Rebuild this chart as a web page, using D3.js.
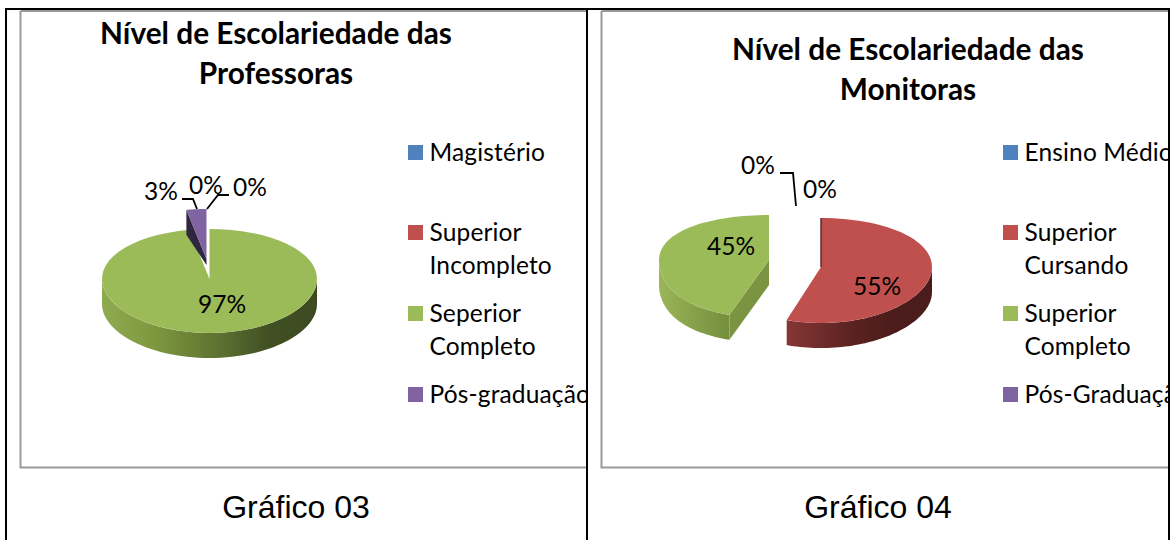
<!DOCTYPE html>
<html><head><meta charset="utf-8">
<script src="https://cdn.jsdelivr.net/npm/d3@7"></script>
<style>html,body{margin:0;padding:0;background:#fff}svg{display:block}</style>
</head><body><svg id="c" width="1172" height="540"></svg>
<script>
const titleA = ["Nível de Escolariedade das","Professoras"];
const titleB = ["Nível de Escolariedade das","Monitoras"];
const categoriesA = ["Magistério","Superior Incompleto","Seperior Completo","Pós-graduação"];
const categoriesB = ["Ensino Médio","Superior Cursando","Superior Completo","Pós-Graduação"];
const valuesA = [0,0,97,3];
const valuesB = [0,55,45,0];
const captions = ["Gráfico 03","Gráfico 04"];
const colors = ["#4F81BD","#C0504D","#9BBB59","#8064A2"];

const svg = d3.select("#c");
const defs = svg.append("defs");
const FONT = "Lato, 'Open Sans', sans-serif";

function grad(id,x1,x2,stops){
  const g = defs.append("linearGradient").attr("id",id).attr("gradientUnits","userSpaceOnUse")
    .attr("x1",x1).attr("x2",x2).attr("y1",0).attr("y2",0);
  stops.forEach(s=>g.append("stop").attr("offset",s[0]).attr("stop-color",s[1]));
  return `url(#${id})`;
}
defs.append("clipPath").attr("id","clipA").append("rect").attr("x",0).attr("y",0).attr("width",586).attr("height",540);
defs.append("clipPath").attr("id","clipB").append("rect").attr("x",590).attr("y",0).attr("width",578).attr("height",540);

// frames
const gray="#9a9a9a";
[[20.5,11,586,467.5],[601.5,11,1168,467.5]].forEach(f=>{
  svg.append("path").attr("d",`M${f[0]},${f[1]}H${f[2]}M${f[0]},${f[1]}V${f[3]}H${f[2]}`)
    .attr("fill","none").attr("stroke",gray).attr("stroke-width",2);
});
svg.append("path").attr("d","M6,540V9H1169V540M587,9V540").attr("fill","none").attr("stroke","#000").attr("stroke-width",2);

const pieGen = d3.pie().sort(null).value(d=>d);
const line = d3.line();

function chart(o){
  const arcs = pieGen(o.values);
  arcs.forEach((a,i)=>{
    if(a.value===0) return;
    const s=o.slices[i];
    const P = (t,z=0)=>{
      const c=Math.cos(t);
      const ryT=s.ryT||o.ryT, ryB=s.ryB||o.ryB, k=s.k||0, rx=s.rx||o.rx;
      const A=(ryT+ryB)/2, B=(ryT-ryB)/2;
      return [o.cx+s.dx+rx*Math.sin(t)*(1+(c<0?k*c*c:0)), o.cy+s.dy-c*(A+B*c)+z];
    };
    const steps=(p,q)=>d3.range(0,61).map(j=>p+(q-p)*j/60);
    const g=svg.append("g");
    const C=[o.cx+s.dx,o.cy+s.dy];
    if(s.cutAt!==undefined){
      const t=s.cutAt==="start"?a.startAngle:a.endAngle;
      g.append("path").attr("d",line([C,P(t),P(t,o.depth),[C[0],C[1]+s.cutDepth]])+"Z").attr("fill",s.cutFill);
    }
    const lo=Math.max(a.startAngle,Math.PI/2), hi=Math.min(a.endAngle,3*Math.PI/2);
    if(hi>lo){
      const ts=steps(lo,hi);
      const pts=ts.map(t=>P(t)).concat(ts.slice().reverse().map(t=>P(t,o.depth)));
      g.append("path").attr("d",line(pts)+"Z").attr("fill",s.wall);
    }
    const top=[C].concat(steps(a.startAngle,a.endAngle).map(t=>P(t)));
    g.append("path").attr("d",line(top)+"Z").attr("fill",colors[i]);
    if(s.seam){
      g.append("path").attr("d",line([C,P(a.startAngle)])).attr("stroke",s.seam).attr("stroke-width",1.4).attr("fill","none");
    }
  });
  o.leaders.forEach(l=>svg.append("path").attr("d",line(l)).attr("fill","none").attr("stroke","#000").attr("stroke-width",1.8));
  o.labelPos.forEach((p,i)=>{
    const total=d3.sum(o.values);
    svg.append("text").attr("x",p[0]).attr("y",p[1]).attr("text-anchor","middle")
      .attr("font-family",FONT).attr("font-size",o.pctSize).attr("fill","#000")
      .text(Math.round(o.values[i]/total*100)+"%");
  });
  o.title.forEach((t,i)=>svg.append("text").attr("x",o.titleX).attr("y",o.titleY+i*o.titleLead)
    .attr("text-anchor","middle").attr("font-family",FONT).attr("font-weight",700).attr("font-size",29.8).attr("fill","#000").text(t));
  const lg=svg.append("g").attr("clip-path",`url(#${o.clip})`);
  const wrap=c=>{const m=c.match(/^(Superior|Seperior) (.+)$/);return m?[m[1],m[2]]:[c];};
  o.categories.forEach((c,i)=>{
    lg.append("rect").attr("x",o.legX).attr("y",o.legSw[i]).attr("width",15).attr("height",15).attr("fill",colors[i]);
    wrap(c).forEach((w,j)=>lg.append("text").attr("x",o.legX+21.5).attr("y",o.legSw[i]+16+j*33)
      .attr("font-family",FONT).attr("font-size",24.5).attr("letter-spacing",0.15).attr("fill","#000").text(w));
  });
  svg.append("text").attr("x",o.capX).attr("y",518).attr("text-anchor","middle")
    .attr("font-family","'Liberation Sans',Arial,sans-serif").attr("font-size",32).attr("fill","#000").text(o.caption);
}

const wallGreenA=grad("wga",102,317,[[0,"#8fab50"],[0.25,"#7d973f"],[0.55,"#5c7130"],[0.78,"#414f24"],[1,"#3d4a21"]]);
const wallRedB=grad("wrb",787,932,[[0,"#853735"],[0.45,"#5a2220"],[0.75,"#4a1c1b"],[1,"#4a1c1b"]]);
const wallGreenB=grad("wgb",659,729,[[0,"#9ab658"],[0.5,"#86a14a"],[1,"#75903e"]]);

chart({
  values:valuesA,categories:categoriesA,title:titleA,caption:captions[0],clip:"clipA",
  cx:209.5,cy:279,rx:107.5,ryT:50,ryB:54,depth:25,pctSize:24.5,
  slices:[{},{},{dx:0,dy:0,wall:wallGreenA},{dx:-3,dy:-20,wall:"#3a2d4a",cutAt:"start",cutDepth:6,cutFill:"#2f2640"}],
  labelPos:[[206,194],[250,196],[222,313],[161,200]],
  leaders:[[[182,199],[193,199],[197,209]],[[207,209],[218,195],[229,195]]],
  titleX:276,titleY:44,titleLead:39.5,
  legX:408,legSw:[145,225,306,387],capX:296
});
chart({
  values:valuesB,categories:categoriesB,title:titleB,caption:captions[1],clip:"clipB",
  cx:821,cy:267,rx:111,ryT:49,ryB:56,depth:25,pctSize:24.5,
  slices:[{},{dx:0,dy:0,wall:wallRedB,seam:"#5a2220"},{dx:-52,dy:-7,rx:110,ryT:45,ryB:58,k:0.18,wall:wallGreenB,cutAt:"start",cutDepth:25,cutFill:"#7a9442"},{}],
  labelPos:[[758,174],[877,295],[731,255],[820,198]],
  leaders:[[[780,173],[793,173],[796,206]]],
  titleX:908,titleY:60,titleLead:39.5,
  legX:1003,legSw:[145,225,306,387],capX:878
});
</script></body></html>
